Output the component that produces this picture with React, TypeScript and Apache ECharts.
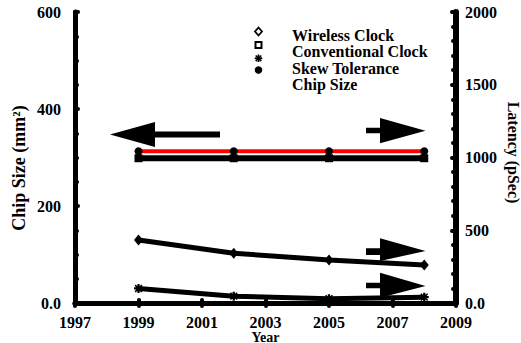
import React, { useEffect, useRef } from "react";
import * as echarts from "echarts";

// Technology years and the four tracked quantities
const years = [1999, 2002, 2005, 2008];
const wirelessClock = [433, 342, 296, 261]; // latency, pSec
const conventionalClock = [995, 995, 995, 995]; // latency, pSec
const skewTolerance = [100, 47, 30, 40]; // latency, pSec
const chipSize = [313, 313, 313, 313]; // mm²

const legendLabels = ["Wireless Clock", "Conventional Clock", "Skew Tolerance", "Chip Size"];
const axisTitles = { left: "Chip Size (mm²)", right: "Latency (pSec)", bottom: "Year" };

const FONT = "Liberation Serif";

const STAR_PATH =
  "path://M-1 -4L1 -4L1 4L-1 4Z M-4 -1L4 -1L4 1L-4 1Z M-3.5 -2.5L-2.5 -3.5L3.5 2.5L2.5 3.5Z M2.5 -3.5L3.5 -2.5L-2.5 3.5L-3.5 2.5Z";

const pair = (vals: number[]) => years.map((y, i) => [y, vals[i]]);

const labelStyle = {
  color: "#000",
  fontFamily: FONT,
  fontWeight: "bold" as const,
  fontSize: 16,
};

export default function App() {
  const ref = useRef<HTMLDivElement>(null);

  useEffect(() => {
    if (!ref.current) return;
    const chart = echarts.init(ref.current, null, { renderer: "svg" });

    const axisLine = { show: true, lineStyle: { color: "#000", width: 5 } };
    const tick = (len: number) => ({
      show: true,
      inside: true,
      length: len,
      lineStyle: { color: "#000", width: 4, cap: "round" },
    });
    const zeroFmt = (v: number) => (v === 0 ? "0.0" : String(v));

    const legendX = 258.5;
    const legendTextX = 292;
    const textYs = [35, 51.7, 68.3, 84.3];

    const textStyle = (t: string, size: number, extra: object = {}) => ({
      text: t,
      fontFamily: FONT,
      fontWeight: "bold",
      fontSize: size,
      fill: "#000",
      ...extra,
    });

    chart.setOption({
      animation: false,
      backgroundColor: "#fff",
      grid: {
        left: 75,
        right: 65,
        top: 12,
        bottom: 40,
        containLabel: false,
        outerBoundsMode: "none",
      },
      xAxis: [
        {
          type: "value",
          position: "bottom",
          min: 1997,
          max: 2009,
          interval: 2,
          axisLine,
          axisTick: tick(3),
          splitLine: { show: false },
          axisLabel: {
            ...labelStyle,
            margin: 11,
            lineHeight: 16,
            formatter: (v: number) => String(v),
          },
        },
        {
          type: "value",
          position: "top",
          min: 1997,
          max: 2009,
          interval: 2,
          axisLine,
          axisTick: tick(3),
          splitLine: { show: false },
          axisLabel: { show: false },
        },
      ],
      yAxis: [
        {
          type: "value",
          position: "left",
          min: 0,
          max: 600,
          interval: 200,
          axisLine,
          axisTick: tick(3),
          minorTick: {
            show: true,
            splitNumber: 4,
            length: 2,
            lineStyle: { color: "#000", width: 4, cap: "round" },
          },
          splitLine: { show: false },
          axisLabel: { ...labelStyle, margin: 14, padding: [7, 0, 0, 0], formatter: zeroFmt },
        },
        {
          type: "value",
          position: "right",
          min: 0,
          max: 2000,
          interval: 500,
          axisLine: { show: true, lineStyle: { color: "#000", width: 6 } },
          axisTick: tick(4),
          minorTick: {
            show: true,
            splitNumber: 5,
            length: 3,
            lineStyle: { color: "#000", width: 4, cap: "round" },
          },
          splitLine: { show: false },
          axisLabel: { ...labelStyle, margin: 9, padding: [7, 0, 0, 0], formatter: zeroFmt },
        },
      ],
      series: [
        {
          name: legendLabels[0],
          type: "line",
          yAxisIndex: 1,
          data: pair(wirelessClock),
          symbol: "diamond",
          symbolSize: [9, 11],
          itemStyle: { color: "#000" },
          lineStyle: { color: "#000", width: 5 },
        },
        {
          name: legendLabels[1],
          type: "line",
          yAxisIndex: 1,
          data: pair(conventionalClock),
          symbol: "rect",
          symbolSize: 8,
          itemStyle: { color: "#000" },
          lineStyle: { color: "#000", width: 6 },
        },
        {
          name: legendLabels[2],
          type: "line",
          yAxisIndex: 1,
          data: pair(skewTolerance),
          symbol: STAR_PATH,
          symbolSize: 9,
          itemStyle: { color: "#000" },
          lineStyle: { color: "#000", width: 5 },
        },
        {
          name: legendLabels[3],
          type: "line",
          yAxisIndex: 0,
          data: pair(chipSize),
          symbol: "circle",
          symbolSize: 8,
          itemStyle: { color: "#000" },
          lineStyle: { color: "#ff0000", width: 4 },
          z: 3,
        },
      ],
      graphic: [
        // legend symbols
        {
          type: "polygon",
          shape: {
            points: [
              [legendX, 27.5],
              [legendX + 3.5, 31.5],
              [legendX, 35.5],
              [legendX - 3.5, 31.5],
            ],
          },
          style: { fill: "#fff", stroke: "#000", lineWidth: 1.8 },
        },
        {
          type: "rect",
          shape: { x: legendX - 3, y: 42, width: 6, height: 6 },
          style: { fill: "#fff", stroke: "#000", lineWidth: 2 },
        },
        {
          type: "group",
          children: [
            { type: "line", shape: { x1: legendX, y1: 54.5, x2: legendX, y2: 62 }, style: { stroke: "#000", lineWidth: 1.8 } },
            { type: "line", shape: { x1: legendX - 3.8, y1: 58.3, x2: legendX + 3.8, y2: 58.3 }, style: { stroke: "#000", lineWidth: 1.8 } },
            { type: "line", shape: { x1: legendX - 2.8, y1: 55.5, x2: legendX + 2.8, y2: 61.1 }, style: { stroke: "#000", lineWidth: 1.5 } },
            { type: "line", shape: { x1: legendX + 2.8, y1: 55.5, x2: legendX - 2.8, y2: 61.1 }, style: { stroke: "#000", lineWidth: 1.5 } },
          ],
        },
        {
          type: "circle",
          shape: { cx: legendX, cy: 70, r: 3.8 },
          style: { fill: "#000" },
        },
        // legend texts
        ...legendLabels.map((t, i) => ({
          type: "text",
          x: legendTextX,
          y: textYs[i],
          style: textStyle(t, 16, { verticalAlign: "middle", align: "left" }),
        })),
        // axis titles
        {
          type: "text",
          x: 19,
          y: 168,
          rotation: Math.PI / 2,
          style: textStyle(axisTitles.left, 18, { align: "center", verticalAlign: "middle" }),
        },
        {
          type: "text",
          x: 513,
          y: 152.5,
          rotation: -Math.PI / 2,
          style: textStyle(axisTitles.right, 16, { align: "center", verticalAlign: "middle" }),
        },
        {
          type: "text",
          x: 265.5,
          y: 337,
          style: textStyle(axisTitles.bottom, 14, {
            align: "center",
            verticalAlign: "middle",
            lineHeight: 14,
          }),
        },
        // direction arrows
        {
          type: "polygon",
          shape: {
            points: [
              [110, 134.5],
              [155, 122],
              [155, 131.5],
              [220, 131.5],
              [220, 137.5],
              [155, 137.5],
              [155, 147],
            ],
          },
          style: { fill: "#000" },
        },
        ...[
          { top: 118, shaftTop: 127.7, shaftBot: 133.3, tipY: 130.7, bot: 143.3 },
          { top: 238.3, shaftTop: 248.3, shaftBot: 255, tipY: 251, bot: 261 },
          { top: 272.7, shaftTop: 282.7, shaftBot: 288.3, tipY: 286, bot: 297.7 },
        ].map((a) => ({
          type: "polygon",
          shape: {
            points: [
              [366, a.shaftTop],
              [380, a.shaftTop],
              [380, a.top],
              [425.5, a.tipY],
              [380, a.bot],
              [380, a.shaftBot],
              [366, a.shaftBot],
            ],
          },
          style: { fill: "#000" },
        })),
      ],
    });

    return () => chart.dispose();
  }, []);

  return (
    <div
      ref={ref}
      style={{ position: "fixed", left: 0, top: 0, width: 521, height: 343, background: "#fff" }}
    />
  );
}
